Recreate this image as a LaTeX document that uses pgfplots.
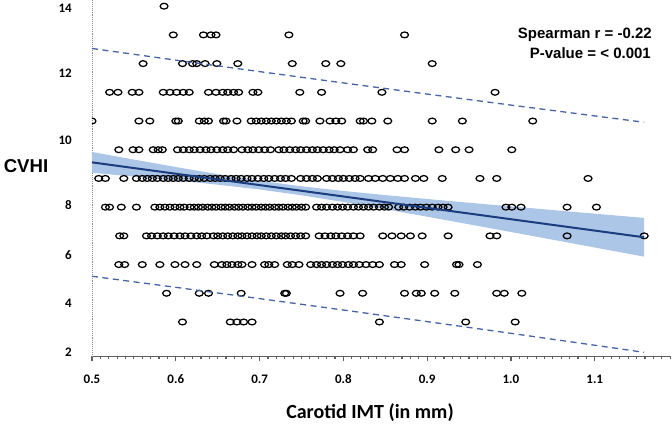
\documentclass[border=0pt]{standalone}
\usepackage{fontspec}
\setmainfont{Carlito}
\newfontfamily\arialf{Liberation Sans}
\usepackage{pgfplots}
\pgfplotsset{compat=1.18}
\usepgfplotslibrary{fillbetween}
\definecolor{bandc}{RGB}{172,198,232}
\definecolor{linec}{RGB}{27,61,125}
\definecolor{dashc}{RGB}{70,100,165}
\definecolor{axgray}{RGB}{95,95,95}
\definecolor{ygray}{RGB}{140,140,140}
\begin{document}
\begin{tikzpicture}
\begin{axis}[
  at={(0pt,0pt)}, anchor=south west,
  scale only axis, width=579pt, height=356pt,
  xmin=0.5, xmax=1.191, ymin=2, ymax=14.4,
  axis x line=bottom, axis y line=left,
  x axis line style={-, draw=axgray, line width=1.6pt},
  y axis line style={-, draw=ygray, densely dotted, line width=0.9pt},
  xtick={0.5,0.6,0.7,0.8,0.9,1.0,1.1},
  xticklabels={0.5,0.6,0.7,0.8,0.9,1.0,1.1},
  minor xtick={0.5,0.51,...,1.19},
  tick align=outside,
  x tick style={draw=axgray, line width=1.2pt},
  major tick length=5pt, minor tick length=3pt,
  ytick={2.14,3.85,5.52,7.26,9.53,11.86,14.13},
  yticklabels={2,4,6,8,10,12,14},
  y tick style={draw=none},
  tick label style={font=\fontsize{13}{15}\selectfont\bfseries, inner sep=0pt},
  yticklabel style={xshift=-15pt},
  xticklabel style={yshift=-13pt},
  clip marker paths=true,
]
% confidence band
\addplot[name path=up, draw=none] coordinates {(0.50,9.122) (0.55,8.858) (0.60,8.598) (0.65,8.349) (0.70,8.121) (0.75,7.927) (0.80,7.764) (0.85,7.620) (0.90,7.485) (0.95,7.354) (1.00,7.226) (1.05,7.099) (1.10,6.973) (1.159,6.825)};
\addplot[name path=lo, draw=none] coordinates {(0.50,8.398) (0.55,8.266) (0.60,8.130) (0.65,7.983) (0.70,7.815) (0.75,7.613) (0.80,7.380) (0.85,7.128) (0.90,6.867) (0.95,6.602) (1.00,6.334) (1.05,6.065) (1.10,5.795) (1.159,5.475)};
\addplot[bandc] fill between[of=up and lo];
% scatter
\addplot[only marks, mark=o, mark size=2.9pt, mark options={black, line width=1.25pt, xscale=1.35}] coordinates {
(0.586,14.2)
(0.597,13.2) (0.633,13.2) (0.642,13.2) (0.648,13.2) (0.735,13.2) (0.873,13.2)
(0.561,12.2) (0.608,12.2) (0.620,12.2) (0.625,12.2) (0.635,12.2) (0.649,12.2) (0.674,12.2) (0.739,12.2) (0.779,12.2) (0.797,12.2) (0.906,12.2)
(0.521,11.2) (0.531,11.2) (0.548,11.2) (0.556,11.2) (0.585,11.2) (0.593,11.2) (0.601,11.2) (0.609,11.2) (0.616,11.2) (0.639,11.2) (0.648,11.2) (0.656,11.2) (0.662,11.2) (0.669,11.2) (0.675,11.2) (0.692,11.2) (0.698,11.2) (0.748,11.2) (0.774,11.2) (0.846,11.2) (0.981,11.2)
(0.500,10.2) (0.556,10.2) (0.569,10.2) (0.600,10.2) (0.603,10.2) (0.628,10.2) (0.634,10.2) (0.639,10.2) (0.657,10.2) (0.660,10.2) (0.673,10.2) (0.690,10.2) (0.696,10.2) (0.702,10.2) (0.708,10.2) (0.714,10.2) (0.720,10.2) (0.726,10.2) (0.732,10.2) (0.738,10.2) (0.752,10.2) (0.755,10.2) (0.772,10.2) (0.784,10.2) (0.791,10.2) (0.798,10.2) (0.820,10.2) (0.824,10.2) (0.834,10.2) (0.853,10.2) (0.906,10.2) (0.942,10.2) (1.026,10.2)
(0.532,9.2) (0.549,9.2) (0.556,9.2) (0.573,9.2) (0.579,9.2) (0.584,9.2) (0.602,9.2) (0.609,9.2) (0.616,9.2) (0.622,9.2) (0.629,9.2) (0.636,9.2) (0.642,9.2) (0.649,9.2) (0.656,9.2) (0.662,9.2) (0.669,9.2) (0.679,9.2) (0.686,9.2) (0.692,9.2) (0.699,9.2) (0.706,9.2) (0.713,9.2) (0.723,9.2) (0.729,9.2) (0.736,9.2) (0.743,9.2) (0.749,9.2) (0.756,9.2) (0.763,9.2) (0.769,9.2) (0.776,9.2) (0.783,9.2) (0.789,9.2) (0.796,9.2) (0.805,9.2) (0.812,9.2) (0.829,9.2) (0.835,9.2) (0.864,9.2) (0.873,9.2) (0.914,9.2) (0.934,9.2) (0.950,9.2) (1.001,9.2)
(0.508,8.2) (0.516,8.2) (0.538,8.2) (0.553,8.2) (0.560,8.2) (0.566,8.2) (0.572,8.2) (0.578,8.2) (0.585,8.2) (0.591,8.2) (0.597,8.2) (0.603,8.2) (0.609,8.2) (0.616,8.2) (0.622,8.2) (0.628,8.2) (0.634,8.2) (0.641,8.2) (0.647,8.2) (0.653,8.2) (0.659,8.2) (0.666,8.2) (0.672,8.2) (0.678,8.2) (0.685,8.2) (0.691,8.2) (0.698,8.2) (0.705,8.2) (0.711,8.2) (0.718,8.2) (0.725,8.2) (0.731,8.2) (0.738,8.2) (0.749,8.2) (0.756,8.2) (0.763,8.2) (0.769,8.2) (0.780,8.2) (0.787,8.2) (0.794,8.2) (0.800,8.2) (0.807,8.2) (0.814,8.2) (0.820,8.2) (0.830,8.2) (0.838,8.2) (0.847,8.2) (0.856,8.2) (0.865,8.2) (0.873,8.2) (0.886,8.2) (0.896,8.2) (0.918,8.2) (0.963,8.2) (0.983,8.2) (1.092,8.2)
(0.516,7.2) (0.521,7.2) (0.535,7.2) (0.553,7.2) (0.575,7.2) (0.581,7.2) (0.587,7.2) (0.593,7.2) (0.599,7.2) (0.605,7.2) (0.610,7.2) (0.617,7.2) (0.622,7.2) (0.627,7.2) (0.632,7.2) (0.638,7.2) (0.643,7.2) (0.648,7.2) (0.654,7.2) (0.659,7.2) (0.664,7.2) (0.670,7.2) (0.675,7.2) (0.680,7.2) (0.686,7.2) (0.691,7.2) (0.696,7.2) (0.702,7.2) (0.707,7.2) (0.712,7.2) (0.718,7.2) (0.723,7.2) (0.728,7.2) (0.734,7.2) (0.739,7.2) (0.744,7.2) (0.750,7.2) (0.755,7.2) (0.768,7.2) (0.774,7.2) (0.780,7.2) (0.787,7.2) (0.793,7.2) (0.799,7.2) (0.805,7.2) (0.812,7.2) (0.818,7.2) (0.824,7.2) (0.830,7.2) (0.836,7.2) (0.843,7.2) (0.849,7.2) (0.854,7.2) (0.866,7.2) (0.872,7.2) (0.879,7.2) (0.886,7.2) (0.892,7.2) (0.899,7.2) (0.906,7.2) (0.913,7.2) (0.919,7.2) (0.925,7.2) (0.994,7.2) (1.001,7.2) (1.012,7.2) (1.067,7.2) (1.102,7.2)
(0.533,6.2) (0.538,6.2) (0.565,6.2) (0.571,6.2) (0.578,6.2) (0.585,6.2) (0.591,6.2) (0.598,6.2) (0.605,6.2) (0.611,6.2) (0.618,6.2) (0.625,6.2) (0.631,6.2) (0.637,6.2) (0.645,6.2) (0.650,6.2) (0.656,6.2) (0.662,6.2) (0.668,6.2) (0.674,6.2) (0.679,6.2) (0.685,6.2) (0.691,6.2) (0.697,6.2) (0.702,6.2) (0.708,6.2) (0.714,6.2) (0.720,6.2) (0.726,6.2) (0.731,6.2) (0.737,6.2) (0.743,6.2) (0.749,6.2) (0.755,6.2) (0.771,6.2) (0.778,6.2) (0.785,6.2) (0.791,6.2) (0.798,6.2) (0.805,6.2) (0.812,6.2) (0.820,6.2) (0.847,6.2) (0.858,6.2) (0.869,6.2) (0.880,6.2) (0.894,6.2) (0.925,6.2) (0.975,6.2) (0.983,6.2) (1.067,6.2) (1.159,6.2)
(0.532,5.2) (0.539,5.2) (0.560,5.2) (0.581,5.2) (0.599,5.2) (0.611,5.2) (0.625,5.2) (0.646,5.2) (0.655,5.2) (0.661,5.2) (0.667,5.2) (0.674,5.2) (0.679,5.2) (0.691,5.2) (0.706,5.2) (0.711,5.2) (0.718,5.2) (0.733,5.2) (0.739,5.2) (0.747,5.2) (0.761,5.2) (0.768,5.2) (0.774,5.2) (0.780,5.2) (0.787,5.2) (0.793,5.2) (0.799,5.2) (0.806,5.2) (0.812,5.2) (0.819,5.2) (0.827,5.2) (0.835,5.2) (0.843,5.2) (0.861,5.2) (0.869,5.2) (0.897,5.2) (0.935,5.2) (0.938,5.2) (0.960,5.2)
(0.589,4.2) (0.628,4.2) (0.639,4.2) (0.678,4.2) (0.730,4.2) (0.732,4.2) (0.796,4.2) (0.823,4.2) (0.873,4.2) (0.887,4.2) (0.893,4.2) (0.909,4.2) (0.933,4.2) (0.983,4.2) (0.992,4.2) (1.013,4.2)
(0.608,3.2) (0.665,3.2) (0.673,3.2) (0.681,3.2) (0.691,3.2) (0.843,3.2) (0.946,3.2) (1.005,3.2)
};
% regression line
\addplot[linec, line width=2pt] coordinates {(0.5,8.76) (1.159,6.15)};
% prediction limits
\addplot[dashc, line width=1.3pt, dash pattern=on 6pt off 4.5pt] coordinates {(0.5,12.727) (0.6,12.321) (0.7,11.921) (0.8,11.527) (0.9,11.138) (1.0,10.755) (1.1,10.378) (1.159,10.157)};
\addplot[dashc, line width=1.3pt, dash pattern=on 6pt off 4.5pt] coordinates {(0.5,4.793) (0.6,4.407) (0.7,4.015) (0.8,3.617) (0.9,3.214) (1.0,2.805) (1.1,2.390) (1.159,2.143)};
\end{axis}
\path (-92pt,-68pt) rectangle (580pt,356pt);
\node[font=\arialf\bfseries\fontsize{18.6}{20}\selectfont, inner sep=0pt] at (-66pt,190pt) {CVHI};
\node[font=\bfseries\fontsize{20}{22}\selectfont, inner sep=0pt] at (278pt,-56pt) {Carotid IMT (in mm)};
\node[font=\arialf\bfseries\fontsize{15}{17}\selectfont, inner sep=0pt, anchor=east] at (560pt,322pt) {Spearman r = -0.22};
\node[font=\arialf\bfseries\fontsize{15}{17}\selectfont, inner sep=0pt, anchor=east] at (559pt,303pt) {P-value = < 0.001};
\end{tikzpicture}
\end{document}
